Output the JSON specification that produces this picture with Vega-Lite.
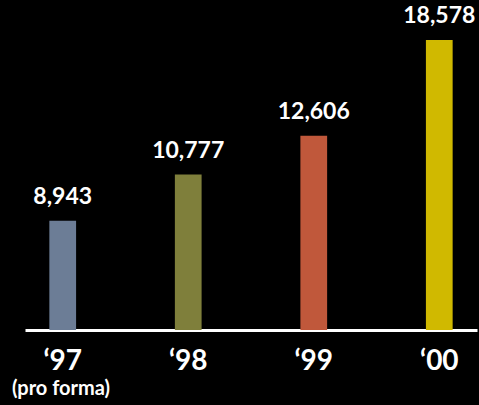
{
  "$schema": "https://vega.github.io/schema/vega-lite/v6.json",
  "width": 452,
  "height": 330,
  "autosize": {"type": "none"},
  "padding": {"left": 25, "right": 2, "top": 0, "bottom": 75},
  "background": "#000000",
  "config": {"view": {"stroke": null}},
  "data": {
    "values": [
      {"year": "‘97", "value": 8943, "label": "8,943", "color": "#6c7d96"},
      {"year": "‘98", "value": 10777, "label": "10,777", "color": "#7f7f3b"},
      {"year": "‘99", "value": 12606, "label": "12,606", "color": "#c0583b"},
      {"year": "‘00", "value": 18578, "label": "18,578", "color": "#d0b900"}
    ]
  },
  "encoding": {
    "x": {
      "field": "year",
      "type": "nominal",
      "sort": null,
      "scale": {"paddingInner": 0.787, "paddingOuter": 0.194},
      "axis": {
        "title": "(pro forma)",
        "titleColor": "#ffffff",
        "titleFont": "Lato",
        "titleFontWeight": "bold",
        "titleFontSize": 20,
        "titleX": 35.5,
        "titleY": 64,
        "titleAlign": "center",
        "titleBaseline": "alphabetic",
        "labelAngle": 0,
        "labelColor": "#ffffff",
        "labelFont": "Lato",
        "labelFontWeight": "bold",
        "labelFontSize": 28,
        "labelBaseline": "alphabetic",
        "labelPadding": 39,
        "ticks": false,
        "grid": false,
        "domainColor": "#ffffff",
        "domainWidth": 3
      }
    },
    "y": {
      "field": "value",
      "type": "quantitative",
      "scale": {"type": "log", "domain": [5747, 21842], "nice": false, "zero": false},
      "axis": null
    }
  },
  "layer": [
    {
      "mark": {"type": "bar"},
      "encoding": {
        "y2": {"datum": 5747},
        "color": {"field": "color", "type": "nominal", "scale": null}
      }
    },
    {
      "mark": {"type": "text", "dy": -17, "baseline": "alphabetic", "font": "Lato", "fontWeight": "bold", "fontSize": 23, "color": "#ffffff"},
      "encoding": {"text": {"field": "label"}}
    }
  ]
}
